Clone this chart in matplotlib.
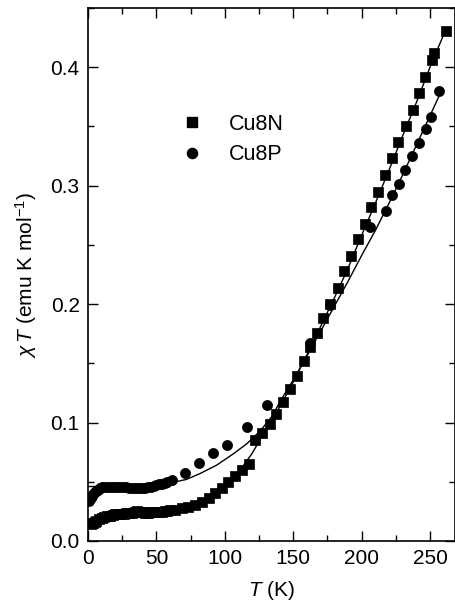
import matplotlib
matplotlib.use("Agg")
import matplotlib.pyplot as plt
from matplotlib.lines import Line2D
from matplotlib.ticker import MultipleLocator

plt.rcParams['font.family'] = ['Liberation Sans', 'DejaVu Sans']
plt.rcParams['mathtext.fontset'] = 'custom'
plt.rcParams['mathtext.rm'] = 'Liberation Sans'
plt.rcParams['mathtext.it'] = 'Liberation Sans:italic'

# Cu8N (squares)
T_N = [2, 3, 4, 5, 6, 8, 10, 12, 14, 16, 18, 20, 22, 24, 26, 28, 30, 32, 34, 36, 38,
       40, 42, 44, 46, 48, 50, 52, 54, 56, 58, 60, 63.7, 68.6, 73.4, 78.3, 83.2, 88.1,
       93, 97.9, 102.7, 107.6, 112.5, 117.4, 122.3, 127.4, 132.7, 137.1, 142.5, 147.4,
       152.8, 157.6, 162.5, 167.4, 171.8, 177, 182.8, 187.4, 192.3, 197.4, 202.3, 207.2,
       212.1, 217.2, 222.3, 226.7, 232.2, 237.3, 242.1, 246.7, 251.8, 253.3, 261.9]
chiT_N = [0.0145, 0.015, 0.0155, 0.016, 0.017, 0.0185, 0.0197, 0.0205, 0.021, 0.0215,
          0.022, 0.0225, 0.0228, 0.023, 0.0232, 0.0235, 0.0238, 0.024, 0.0245, 0.0252,
          0.0248, 0.0242, 0.024, 0.024, 0.0241, 0.0242, 0.0243, 0.0245, 0.0248, 0.0252,
          0.0256, 0.026, 0.0265, 0.0275, 0.029, 0.0308, 0.033, 0.0365, 0.0405, 0.045,
          0.050, 0.055, 0.060, 0.065, 0.085, 0.0914, 0.0987, 0.107, 0.1176, 0.128, 0.139,
          0.152, 0.164, 0.176, 0.188, 0.200, 0.214, 0.228, 0.241, 0.255, 0.268, 0.282,
          0.295, 0.309, 0.323, 0.337, 0.350, 0.364, 0.378, 0.392, 0.406, 0.412, 0.431]

# Cu8P (circles)
T_P = [1, 2, 3, 4, 5, 6, 7, 8, 9, 10, 12, 14, 16, 18, 20, 22, 24, 26, 28, 30, 32, 34,
       36, 38, 40, 42, 44, 46, 48, 50, 52, 54, 56, 58, 61.3, 71.2, 81.5, 91.7, 101.5,
       116.2, 130.8, 162.5, 177, 206.4, 218.2, 222.3, 227.7, 232.1, 236.9, 242.3,
       247.4, 250.9, 256.4]
chiT_P = [0.034, 0.036, 0.038, 0.0395, 0.041, 0.042, 0.043, 0.044, 0.0447, 0.0452,
          0.0458, 0.046, 0.046, 0.046, 0.046, 0.046, 0.0458, 0.0455, 0.0453, 0.045,
          0.0448, 0.0446, 0.0445, 0.0446, 0.0448, 0.045, 0.0455, 0.046, 0.0465, 0.047,
          0.0478, 0.0485, 0.049, 0.050, 0.0515, 0.0577, 0.0655, 0.074, 0.081, 0.096,
          0.1145, 0.167, 0.199, 0.265, 0.279, 0.292, 0.301, 0.313, 0.325, 0.336,
          0.348, 0.358, 0.380]

# fitted curves
fitT_N = [0, 20, 40, 60, 80, 90, 100, 110, 120, 130, 140, 150, 160, 170, 180, 190,
          200, 210, 220, 230, 240, 250, 262]
fit_N = [0.014, 0.021, 0.024, 0.026, 0.031, 0.037, 0.046, 0.058, 0.074, 0.094, 0.113,
         0.134, 0.157, 0.181, 0.205, 0.230, 0.258, 0.285, 0.313, 0.342, 0.370, 0.400,
         0.433]
fitT_P = [0, 20, 40, 60, 72, 82, 94, 106, 116, 126, 135, 140, 150, 160, 170, 180, 190,
          200, 210, 220, 230, 240, 250, 258]
fit_P = [0.046, 0.046, 0.046, 0.049, 0.052, 0.057, 0.064, 0.0734, 0.082, 0.093, 0.106,
         0.117, 0.136, 0.156, 0.177, 0.198, 0.219, 0.241, 0.262, 0.285, 0.309, 0.334,
         0.359, 0.379]

labels = ['Cu8N', 'Cu8P']

W, H = 456, 614
fig = plt.figure(figsize=(W / 100, H / 100), dpi=100)
ax = fig.add_axes([88 / W, 1 - 541 / H, (455 - 88) / W, (541 - 8) / H])

ax.plot(fitT_N, fit_N, color='black', lw=1.0, zorder=2)
ax.plot(fitT_P, fit_P, color='black', lw=1.0, zorder=2)
ax.plot(T_N, chiT_N, ls='none', marker='s', ms=6.5, mfc='black', mec='black', mew=0.5, zorder=3)
ax.plot(T_P, chiT_P, ls='none', marker='o', ms=7.3, mfc='black', mec='black', mew=0.5, zorder=3)

ax.set_xlim(0, 268.3)
ax.set_ylim(0.0, 0.45)
ax.xaxis.set_major_locator(MultipleLocator(50))
ax.xaxis.set_minor_locator(MultipleLocator(25))
ax.yaxis.set_major_locator(MultipleLocator(0.1))
ax.yaxis.set_minor_locator(MultipleLocator(0.05))
ax.yaxis.set_major_formatter(matplotlib.ticker.FormatStrFormatter('%.1f'))
ax.tick_params(which='both', direction='in', top=True, right=True, width=1.0,
               labelsize=15, pad=6)
ax.tick_params(which='major', length=7)
ax.tick_params(which='minor', length=4)
for s in ax.spines.values():
    s.set_linewidth(1.2)

ax.set_xlabel(r'$T$ (K)', fontsize=15, labelpad=8)
ax.set_ylabel(r'$\chi\,T$ (emu K mol$^{-1}$)', fontsize=15, labelpad=8)

handles = [Line2D([], [], ls='none', marker='s', ms=6.5, color='black'),
           Line2D([], [], ls='none', marker='o', ms=7.3, color='black')]
ax.legend(handles, labels, loc='upper left', bbox_to_anchor=(0.2, 0.818),
          frameon=False, fontsize=15.5, handletextpad=0.75, labelspacing=0.45,
          borderaxespad=0)

fig.savefig('out.png', dpi=100)
